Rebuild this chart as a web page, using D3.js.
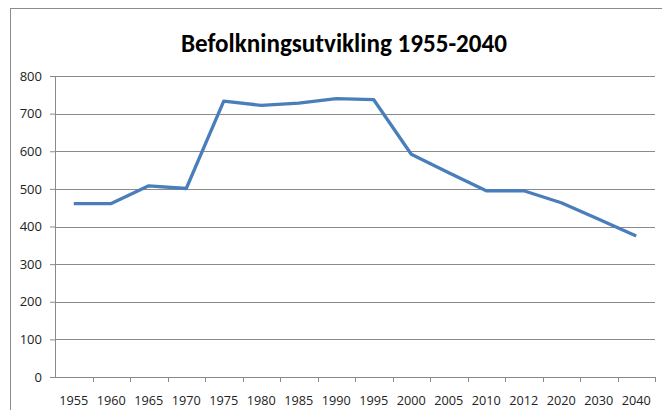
<!DOCTYPE html>
<html>
<head>
<meta charset="utf-8">
<script src="https://cdn.jsdelivr.net/npm/d3@7"></script>
<style>
  body { margin: 0; background: #fff; }
  svg { display: block; }
  .tick text { font-family: "Open Sans", sans-serif; }
</style>
</head>
<body>
<div id="chart"></div>
<script>
// chart data
const years = ["1955", "1960", "1965", "1970", "1975", "1980", "1985", "1990",
  "1995", "2000", "2005", "2010", "2012", "2020", "2030", "2040"];
const population = [461, 461, 508, 501, 733, 722, 728, 740,
  737, 592, 543, 495, 495, 463, 419, 375];
const yTicks = [0, 100, 200, 300, 400, 500, 600, 700, 800];
const title = "Befolkningsutvikling 1955-2040";

const width = 662, height = 410;
const margin = { top: 76, right: 7, bottom: 33, left: 55 };
const plotW = width - margin.left - margin.right;
const plotH = height - margin.top - margin.bottom;

const svg = d3.select("#chart").append("svg")
  .attr("width", width)
  .attr("height", height);

// outer chart frame (only top/left visible in picture)
svg.append("rect")
  .attr("x", 10.5).attr("y", 8.5)
  .attr("width", 700).attr("height", 500)
  .attr("fill", "none")
  .attr("stroke", "#8c8c8c")
  .attr("stroke-width", 1);

svg.append("text")
  .attr("x", 344)
  .attr("y", 52)
  .attr("text-anchor", "middle")
  .attr("font-family", "Carlito, 'Liberation Sans Narrow', 'Open Sans', sans-serif")
  .attr("font-weight", "bold")
  .attr("font-size", 27)
  .attr("textLength", 326)
  .attr("lengthAdjust", "spacingAndGlyphs")
  .attr("fill", "#000")
  .text(title);

const g = svg.append("g")
  .attr("transform", "translate(" + margin.left + "," + margin.top + ")");

const x = d3.scaleBand()
  .domain(years)
  .range([0, plotW]);

const y = d3.scaleLinear()
  .domain([0, 800])
  .range([plotH, 0]);

// horizontal gridlines
g.selectAll("line.grid")
  .data(yTicks.filter(d => d > 0))
  .enter()
  .append("line")
  .attr("class", "grid")
  .attr("x1", 0)
  .attr("x2", plotW)
  .attr("y1", d => Math.round(y(d)) + 0.5)
  .attr("y2", d => Math.round(y(d)) + 0.5)
  .attr("stroke", "#8a8a8a")
  .attr("stroke-width", 1);

// y axis
const yAxis = g.append("g")
  .call(d3.axisLeft(y).tickValues(yTicks).tickSize(5).tickPadding(8));
yAxis.select(".domain").attr("stroke", "#8a8a8a");
yAxis.selectAll(".tick line").attr("stroke", "#8a8a8a");
yAxis.selectAll("text")
  .attr("font-size", 13)
  .attr("fill", "#222");

// x axis, ticks between categories like Excel
const xAxis = g.append("g")
  .attr("transform", "translate(0," + plotH + ")");
xAxis.append("line")
  .attr("x1", 0).attr("x2", plotW)
  .attr("y1", 0.5).attr("y2", 0.5)
  .attr("stroke", "#8a8a8a");
xAxis.selectAll("line.tk")
  .data(years)
  .enter()
  .append("line")
  .attr("class", "tk")
  .attr("x1", d => Math.round(x(d) + x.bandwidth()) + 0.5)
  .attr("x2", d => Math.round(x(d) + x.bandwidth()) + 0.5)
  .attr("y1", 0)
  .attr("y2", 5)
  .attr("stroke", "#8a8a8a");
xAxis.selectAll("text")
  .data(years)
  .enter()
  .append("text")
  .attr("x", d => x(d) + x.bandwidth() / 2)
  .attr("y", 28)
  .attr("text-anchor", "middle")
  .attr("font-family", "'Open Sans', sans-serif")
  .attr("font-size", 12.7)
  .attr("fill", "#222")
  .text(d => d);

// the line
const line = d3.line()
  .x((d, i) => x(years[i]) + x.bandwidth() / 2)
  .y(d => y(d));

g.append("path")
  .datum(population)
  .attr("d", line)
  .attr("fill", "none")
  .attr("stroke", "#4a7ebb")
  .attr("stroke-width", 3.3)
  .attr("stroke-linejoin", "round");
</script>
</body>
</html>
